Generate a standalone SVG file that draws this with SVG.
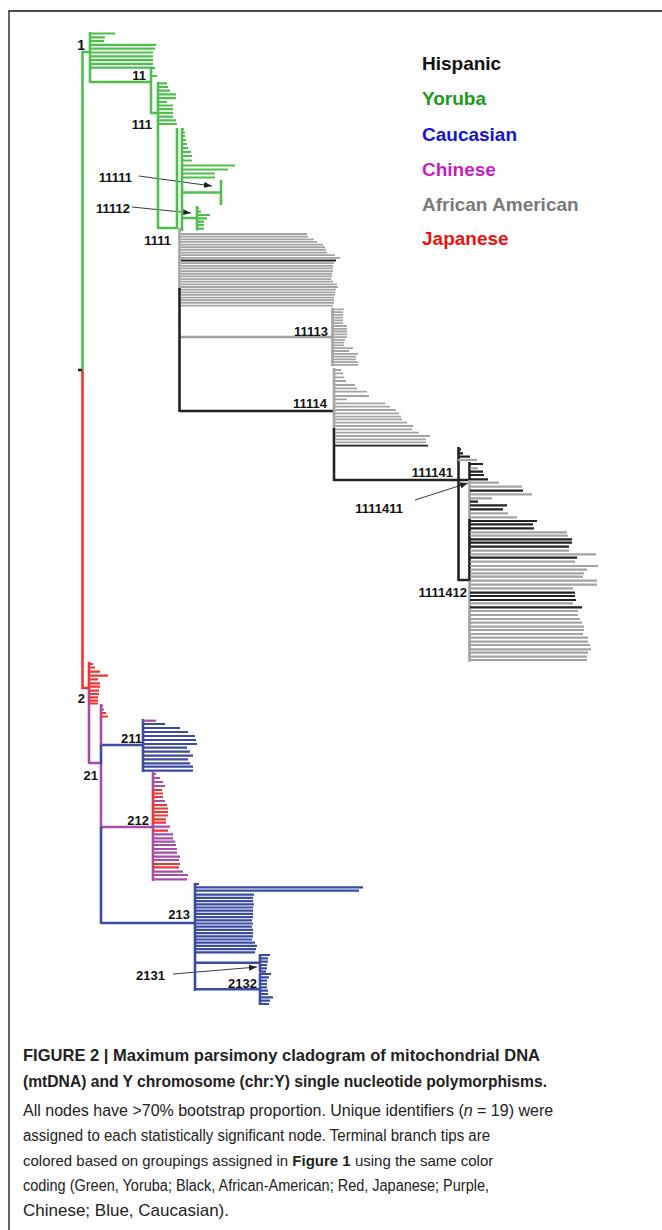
<svg xmlns="http://www.w3.org/2000/svg" width="662" height="1230" viewBox="0 0 662 1230">
<style>
.g{stroke:#4dbf4d}.k{stroke:#222}.a{stroke:#a3a3a3}.r{stroke:#ef3434}.p{stroke:#a64ea6}.b{stroke:#3b4aa2}
.br{fill:none;stroke-width:2.6}
.tp{fill:none;stroke-width:2.2}
.tn{fill:none;stroke-width:1.8}
.lbl{font-family:'Liberation Sans',Arial,sans-serif;font-weight:bold;font-size:13px;fill:#111;text-anchor:end}
.leg{font-family:'Liberation Sans',Arial,sans-serif;font-weight:bold;font-size:19px}
.cap{font-family:'Liberation Sans',Arial,sans-serif;font-size:16px;fill:#222}
.ptr{fill:none;stroke:#222;stroke-width:0.9}
</style>
<defs>
<marker id="ah" markerUnits="userSpaceOnUse" markerWidth="8" markerHeight="6" refX="8" refY="3" orient="auto"><path d="M0,0 L8,3 L0,6 z" fill="#222"/></marker>
</defs>
<rect width="662" height="1230" fill="#fff"/>
<path d="M662,11 H9 V1230" fill="none" stroke="#111" stroke-width="1.3"/>

<g id="connectors">
<path class="br g" d="M82.5,52H90 M90,82H151 M151,113H158 M158,228H178 M182,192.5H221 M182,218H197"/>
<path class="br a" d="M180,337H332"/>
<path class="br k" d="M180,411H334 M334,480H470 M458,580H470"/>
<path class="br r" d="M82.5,688H89"/>
<path class="br p" d="M89,763H101 M101,827H153"/>
<path class="br b" d="M101,745H143 M101,923H195 M195,962.7H260 M195,989.3H260"/>
<path class="ptr" marker-end="url(#ah)" d="M139,176L212,186"/>
<path class="ptr" marker-end="url(#ah)" d="M132,207L191,213"/>
<path class="ptr" marker-end="url(#ah)" d="M415,500L468,483"/>
<path class="ptr" marker-end="url(#ah)" d="M173,974L257,967"/>
</g>

<g id="node-root">
<path class="br g" d="M82.5,51V370"/>
<path class="br r" d="M82.5,370V689"/>
<path class="br k" d="M78,370H82"/>
</g>

<g id="node-1">
<path class="br g" d="M90,32V83"/>
<path class="tp g" d="M90,33.5H115M90,37.3H105M90,41.1H104M90,44.9H156M90,48.7H155M90,52.5H153M90,56.3H153M90,60.1H153M90,63.9H153M90,67.7H153"/>
<text class="lbl" x="85" y="50" style="font-size:14px">1</text>
</g>

<g id="node-11">
<path class="br g" d="M151,67V114"/>
<path class="tp g" d="M151,68H155M151,76H157"/>
<text class="lbl" x="146" y="80">11</text>
</g>

<g id="node-111">
<path class="br g" d="M158,82V229"/>
<path class="tp g" d="M158,83.3H167M158,87H168M158,90.7H170M158,94.4H176M158,98.1H176M158,101.8H167M158,105.5H173M158,109.2H173M158,112.9H173M158,116.6H173M158,120.3H176M158,124H177"/>
<text class="lbl" x="152" y="129">111</text>
</g>

<g id="node-1111">
<path class="br g" d="M177,128V229M182,128V231"/>
<path class="tp g" d="M182,129H184M182,132.5H185M182,136H185M182,140H186M182,144H187M182,148H188M182,152H191M182,156H192M182,160.5H192M182,165.5H235M182,169.5H228M182,173.5H215M182,177.5H215"/>
<path class="br a" d="M179.5,228V290"/>
<path class="br k" d="M179.5,288V412"/>
<path class="tn a" d="M181,234H307M181,236.65H308M181,239.3H314M181,241.95H317M181,244.6H323M181,247.25H325M181,249.9H326M181,252.55H327M181,255.2H335M181,257.85H340M181,263.15H334M181,265.8H333M181,268.45H333M181,271.1H333M181,273.75H332M181,276.4H332M181,279.05H331M181,281.7H333M181,284.35H337M181,287H338M181,289.65H336M181,292.3H335M181,294.95H335M181,297.6H334M181,300.25H334M181,302.9H334M181,305.55H333"/>
<path class="tn k" d="M181,260.5H336"/>
<text class="lbl" x="171" y="245">1111</text>
</g>

<g id="node-11111">
<path class="br g" d="M221,180V205"/>
<text class="lbl" x="132" y="182">11111</text>
</g>

<g id="node-11112">
<path class="br g" d="M197,206V230.5"/>
<path class="tp g" d="M197,208.3H199M197,211.7H201M197,215H210M197,218.3H207M197,221.7H204M197,225H204M197,228.7H204"/>
<text class="lbl" x="130" y="213">11112</text>
</g>

<g id="node-11113">
<path class="br a" d="M332.5,308V366"/>
<path class="tn a" d="M333,309.3H344M333,312.1H343M333,314.9H343M333,317.6H343M333,320.4H343M333,323.2H343M333,326H347M333,328.8H347M333,331.5H347M333,334.3H347M333,337.1H347M333,339.9H345M333,342.7H344M333,345.4H344M333,348.2H353M333,351H349M333,353.8H358M333,356.6H356M333,359.3H356M333,362.1H358M333,364.9H358"/>
<text class="lbl" x="328" y="336">11113</text>
</g>

<g id="node-11114">
<path class="br a" d="M334,368V430"/>
<path class="br k" d="M334,428V481"/>
<path class="tn a" d="M335,370H341M335,373.3H343M335,377.3H344M335,381H346M335,385H355M335,388.3H357M335,391.7H367M335,396H369M335,399.3H347M335,403.3H385M335,406.7H390M335,410H396M335,413.3H399M335,416.7H401M335,419.3H402M335,422.7H407M335,426H413M335,429.3H412M335,432.7H419M335,436H430M335,439.3H426M335,442.3H426"/>
<path class="tn k" d="M335,445.7H428"/>
<text class="lbl" x="327" y="408">11114</text>
</g>

<g id="node-111141">
<path class="br k" d="M458.5,447V581"/>
<path class="tp k" d="M458,449.3H461M458,453.3H463M458,456.7H470"/>
<path class="tp a" d="M458,460H477"/>
<path class="br k" d="M469.5,462V481"/>
<path class="tp k" d="M470,464H483M470,471.7H483M470,475H484M470,479.3H488"/>
<path class="tp a" d="M470,468.3H478"/>
<text class="lbl" x="453" y="477">111141</text>
</g>

<g id="node-1111411">
<path class="br a" d="M469.5,480V662"/>
<path class="tp a" d="M470,482.7H499M470,486.7H522M470,494.3H532M470,498.3H492M470,513.3H508M470,517.3H517"/>
<path class="tp k" d="M470,490.7H523M470,501.7H478M470,505.3H507M470,509.3H503"/>
<text class="lbl" x="403" y="513">1111411</text>
</g>

<g id="node-1111412">
<path class="br k" d="M469.5,519V581"/>
<path class="tp a" d="M470,532.3H567M470,535.7H568M470,550.7H569M470,554.3H596M470,561.7H575M470,566H598M470,569.7H587M470,573.3H584M470,576.7H583M470,580.7H597M470,584.7H597M470,588.3H573M470,603.3H573M470,611H578M470,615H578M470,619H580M470,622.7H582M470,626.7H584M470,630H584M470,634H583M470,637.7H588M470,641.7H588M470,645H590M470,649.3H591M470,652.7H588M470,656.7H587M470,660H587"/>
<path class="tp k" d="M470,521H537M470,524.3H533M470,528.3H534M470,539.3H572M470,542.7H572M470,546.7H569M470,557.7H577M470,592.7H575M470,596H575M470,600H576M470,607.3H582"/>
<text class="lbl" x="467" y="597">1111412</text>
</g>

<g id="node-2">
<path class="br r" d="M89,662V689"/>
<path class="br p" d="M89,688V764"/>
<path class="tp r" d="M89,664H93M89,667.5H95M89,671.7H100M89,675.7H108M89,679.3H98M89,683.3H100M89,686.7H100M89,690.7H99M89,694H99M89,697.3H98M89,700.7H98M89,703.5H98"/>
<text class="lbl" x="85" y="703">2</text>
</g>

<g id="node-21">
<path class="br p" d="M101,704V746M101,763V828"/>
<path class="br b" d="M101,745V764M101,827V924"/>
<path class="tp p" d="M101,706H103M101,709.5H104"/>
<path class="tp r" d="M101,713H106M101,716.5H108"/>
<text class="lbl" x="98" y="780">21</text>
</g>

<g id="node-211">
<path class="br b" d="M143,719V772"/>
<path class="tp p" d="M143,720.7H156"/>
<path class="tp b" d="M143,724H165M143,728H180M143,732H188M143,736H195M143,740H196M143,744H197M143,747.7H187M143,751.7H190M143,755.7H193M143,759.3H188M143,763.3H190M143,766.7H193M143,770.7H193"/>
<text class="lbl" x="142" y="743">211</text>
</g>

<g id="node-212">
<path class="br p" d="M153,772V791M153,823V881"/>
<path class="br r" d="M153,790V824"/>
<path class="tp p" d="M153,774H156M153,778H160M153,782H163M153,786H165M153,801H165M153,826.7H170M153,834.3H173M153,838.3H173M153,841.7H175M153,845H176M153,849H177M153,852.7H177M153,856.7H180M153,860H179M153,871.7H183M153,875H188M153,879.3H187"/>
<path class="tp r" d="M153,790H162M153,793.5H163M153,797H163M153,805H167M153,808.5H168M153,812H168M153,815.5H168M153,819.3H166M153,822.7H166M153,830.7H168M153,864H180M153,867.3H179"/>
<text class="lbl" x="149" y="825">212</text>
</g>

<g id="node-213">
<path class="br b" d="M195,883V991"/>
<path class="tp b" d="M195,884H199M195,887.3H363M195,890.7H359M195,894.7H254M195,897.9H253M195,901.1H253M195,904.3H254M195,907.5H253M195,910.7H253M195,913.9H253M195,917.1H253M195,920.3H252M195,923.5H253M195,926.7H252M195,929.9H253M195,933.1H253M195,936.3H253M195,939.5H252M195,942.7H255M195,945.9H257M195,949.1H256M195,952.3H255"/>
<text class="lbl" x="190" y="919">213</text>
</g>

<g id="node-2131">
<path class="br b" d="M260,954V972.5"/>
<path class="tp b" d="M260,955H270M260,958.3H268M260,961.7H268M260,965H267M260,968.3H267M260,971.7H266"/>
<text class="lbl" x="165" y="980">2131</text>
</g>

<g id="node-2132">
<path class="br b" d="M260,973V1005"/>
<path class="tp b" d="M260,974H271M260,977.3H269M260,980.7H267M260,984H267M260,987.3H267M260,990.7H268M260,994H268M260,997.3H273M260,1000.7H270M260,1004H269"/>
<text class="lbl" x="257" y="988">2132</text>
</g>

<g id="legend">
<text class="leg" x="422" y="70" fill="#111">Hispanic</text>
<text class="leg" x="422" y="105" fill="#1b9a1b">Yoruba</text>
<text class="leg" x="422" y="141" fill="#1414d2">Caucasian</text>
<text class="leg" x="422" y="176" fill="#c21fc2">Chinese</text>
<text class="leg" x="422" y="211" fill="#7a7a7a">African American</text>
<text class="leg" x="422" y="245" fill="#ee1111">Japanese</text>
</g>

<g id="caption">
<text class="cap" x="23" y="1061" font-weight="bold" style="font-size:17px" textLength="517" lengthAdjust="spacingAndGlyphs">FIGURE 2 | Maximum parsimony cladogram of mitochondrial DNA</text>
<text class="cap" x="23" y="1087" font-weight="bold" style="font-size:17px" textLength="524" lengthAdjust="spacingAndGlyphs">(mtDNA) and Y chromosome (chr:Y) single nucleotide polymorphisms.</text>
<text class="cap" x="23" y="1116">All nodes have &gt;70% bootstrap proportion. Unique identifiers (<tspan font-style="italic">n</tspan> = 19) were</text>
<text class="cap" x="23" y="1141" textLength="467" lengthAdjust="spacingAndGlyphs">assigned to each statistically significant node. Terminal branch tips are</text>
<text class="cap" x="23" y="1166" style="font-size:15px">colored based on groupings assigned in <tspan font-weight="bold">Figure 1</tspan> using the same color</text>
<text class="cap" x="23" y="1191" textLength="466" lengthAdjust="spacingAndGlyphs">coding (Green, Yoruba; Black, African-American; Red, Japanese; Purple,</text>
<text class="cap" x="23" y="1216" style="font-size:17px">Chinese; Blue, Caucasian).</text>
</g>
</svg>
